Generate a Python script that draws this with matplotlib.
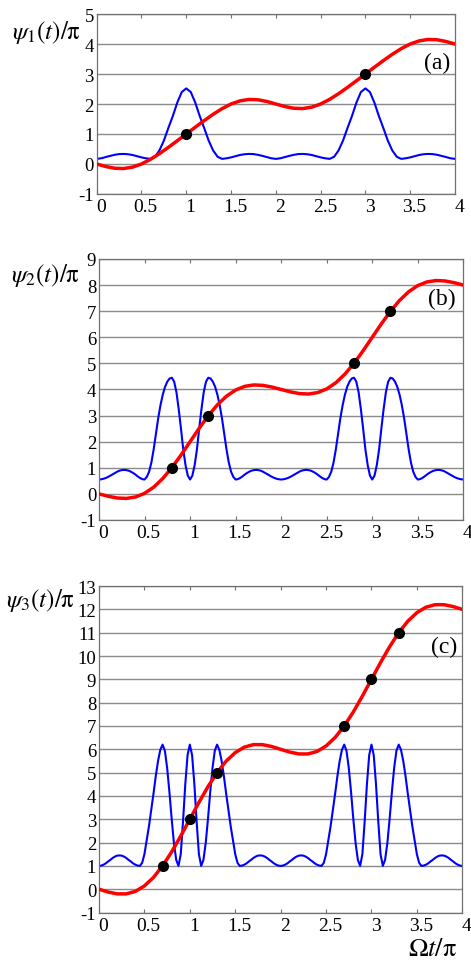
import matplotlib.pyplot as plt
import matplotlib.transforms as mtransforms
import numpy as np

plt.rcParams['font.family'] = 'Liberation Serif'
plt.rcParams['mathtext.fontset'] = 'stix'
plt.rcParams['axes.unicode_minus'] = False

# sample positions (Omega t / pi)
t_red = np.linspace(0, 4, 41)
t_blue_a = np.linspace(0, 4, 81)
t_blue_bc = np.linspace(0, 4, 161)

xtick_vals = [0, 0.5, 1, 1.5, 2, 2.5, 3, 3.5, 4]
xtick_labels = ['0', '0.5', '1', '1.5', '2', '2.5', '3', '3.5', '4']

# panel (a)
red_a = [0, -0.084, -0.142, -0.152, -0.105, 0.0, 0.154, 0.343, 0.554, 0.775,
         1.0, 1.225, 1.446, 1.657, 1.846, 2.0, 2.105, 2.152, 2.142, 2.084,
         2.0, 1.916, 1.858, 1.848, 1.895, 2.0, 2.154, 2.343, 2.554, 2.775,
         3.0, 3.225, 3.446, 3.657, 3.846, 4.0, 4.105, 4.152, 4.142, 4.084, 4.0]
blue_a = [0.17, 0.19, 0.23, 0.27, 0.305, 0.33, 0.335, 0.325, 0.30, 0.26, 0.22,
          0.19, 0.17, 0.24, 0.45, 0.78, 1.20, 1.60, 2.05, 2.40, 2.52,
          2.40, 2.05, 1.60, 1.20, 0.78, 0.45, 0.24, 0.17, 0.19, 0.22,
          0.26, 0.30, 0.325, 0.335, 0.33, 0.305, 0.27, 0.23, 0.19, 0.17,
          0.19, 0.23, 0.27, 0.305, 0.33, 0.335, 0.325, 0.30, 0.26, 0.22,
          0.19, 0.17, 0.24, 0.45, 0.78, 1.20, 1.60, 2.05, 2.40, 2.52,
          2.40, 2.05, 1.60, 1.20, 0.78, 0.45, 0.24, 0.17, 0.19, 0.22,
          0.26, 0.30, 0.325, 0.335, 0.33, 0.305, 0.27, 0.23, 0.19, 0.17]
dots_a_x = [1, 3]
dots_a_y = [1, 3]

# panel (b)
red_b = [0, -0.091, -0.157, -0.174, -0.120, 0.02, 0.256, 0.588, 1.005, 1.485,
         2.0, 2.515, 2.995, 3.412, 3.744, 3.98, 4.120, 4.174, 4.157, 4.091,
         4.0, 3.909, 3.843, 3.826, 3.880, 4.02, 4.256, 4.588, 5.005, 5.485,
         6.0, 6.515, 6.995, 7.412, 7.744, 7.98, 8.120, 8.174, 8.157, 8.091, 8.0]
blue_b = [0.55, 0.56, 0.58, 0.61, 0.65, 0.70, 0.75, 0.80, 0.85, 0.89,
          0.91, 0.92, 0.91, 0.89, 0.85, 0.80, 0.74, 0.67, 0.61, 0.565,
          0.55, 0.65, 0.85, 1.2, 1.7, 2.3, 2.9, 3.4, 3.8, 4.1,
          4.3, 4.42, 4.45, 4.3, 3.9, 3.25, 2.5, 1.7, 1.1, 0.7, 0.55,
          0.7, 1.1, 1.7, 2.5, 3.25, 3.9, 4.3, 4.45, 4.42, 4.3,
          4.1, 3.8, 3.4, 2.9, 2.3, 1.7, 1.2, 0.85, 0.65, 0.55,
          0.565, 0.61, 0.67, 0.74, 0.80, 0.85, 0.89, 0.91, 0.92, 0.91,
          0.89, 0.85, 0.80, 0.75, 0.70, 0.65, 0.61, 0.58, 0.56, 0.55,
          0.56, 0.58, 0.61, 0.65, 0.70, 0.75, 0.80, 0.85, 0.89, 0.91,
          0.92, 0.91, 0.89, 0.85, 0.80, 0.74, 0.67, 0.61, 0.565, 0.55,
          0.65, 0.85, 1.2, 1.7, 2.3, 2.9, 3.4, 3.8, 4.1, 4.3,
          4.42, 4.45, 4.3, 3.9, 3.25, 2.5, 1.7, 1.1, 0.7, 0.55,
          0.7, 1.1, 1.7, 2.5, 3.25, 3.9, 4.3, 4.45, 4.42, 4.3,
          4.1, 3.8, 3.4, 2.9, 2.3, 1.7, 1.2, 0.85, 0.65, 0.55,
          0.565, 0.61, 0.67, 0.74, 0.80, 0.85, 0.89, 0.91, 0.92, 0.91,
          0.89, 0.85, 0.80, 0.75, 0.70, 0.65, 0.61, 0.58, 0.56, 0.55]
dots_b_x = [0.8, 1.2, 2.8, 3.2]
dots_b_y = [1, 3, 5, 7]

# panel (c)
red_c = [0, -0.120, -0.199, -0.200, -0.093, 0.141, 0.507, 1.001, 1.601, 2.280,
         3.0, 3.720, 4.399, 4.999, 5.493, 5.859, 6.093, 6.200, 6.199, 6.120,
         6.0, 5.880, 5.801, 5.800, 5.907, 6.141, 6.507, 7.001, 7.601, 8.280,
         9.0, 9.720, 10.399, 10.999, 11.493, 11.859, 12.093, 12.200, 12.199, 12.120, 12.0]
blue_c = [1.0, 1.014, 1.053, 1.11, 1.19, 1.26, 1.34, 1.40, 1.44, 1.45,
          1.44, 1.40, 1.34, 1.26, 1.19, 1.11, 1.053, 1.014, 1.0, 1.13,
          1.50, 2.10, 2.70, 3.40, 4.10, 4.85, 5.50, 5.98, 6.2, 5.94,
          5.21, 4.18, 3.02, 1.98, 1.26, 1.0, 1.5, 2.9, 4.5, 5.75, 6.2,
          5.75, 4.5, 2.9, 1.5, 1.0, 1.26, 1.98, 3.02, 4.18, 5.21,
          5.94, 6.2, 5.98, 5.50, 4.85, 4.10, 3.40, 2.70, 2.10, 1.50,
          1.13, 1.0, 1.014, 1.053, 1.11, 1.19, 1.26, 1.34, 1.40, 1.44,
          1.45, 1.44, 1.40, 1.34, 1.26, 1.19, 1.11, 1.053, 1.014, 1.0,
          1.014, 1.053, 1.11, 1.19, 1.26, 1.34, 1.40, 1.44, 1.45, 1.44,
          1.40, 1.34, 1.26, 1.19, 1.11, 1.053, 1.014, 1.0, 1.13, 1.50,
          2.10, 2.70, 3.40, 4.10, 4.85, 5.50, 5.98, 6.2, 5.94, 5.21,
          4.18, 3.02, 1.98, 1.26, 1.0, 1.5, 2.9, 4.5, 5.75, 6.2,
          5.75, 4.5, 2.9, 1.5, 1.0, 1.26, 1.98, 3.02, 4.18, 5.21,
          5.94, 6.2, 5.98, 5.50, 4.85, 4.10, 3.40, 2.70, 2.10, 1.50,
          1.13, 1.0, 1.014, 1.053, 1.11, 1.19, 1.26, 1.34, 1.40, 1.44,
          1.45, 1.44, 1.40, 1.34, 1.26, 1.19, 1.11, 1.053, 1.014, 1.0]
dots_c_x = [0.7, 1.0, 1.3, 2.7, 3.0, 3.3]
dots_c_y = [1, 3, 5, 7, 9, 11]

panels = [
    dict(rect=[0.2053, 0.799, 0.7607, 0.1855], red=red_a, tb=t_blue_a, blue=blue_a,
         dx=dots_a_x, dy=dots_a_y, ylim=(-1, 5), ylabel=r'$\psi_1(t)/\mathrm{\pi}$',
         lpos=(0.098, 0.966), tag='(a)', tpos=(0.928, 0.935)),
    dict(rect=[0.2102, 0.4629, 0.7735, 0.2691], red=red_b, tb=t_blue_bc, blue=blue_b,
         dx=dots_b_x, dy=dots_b_y, ylim=(-1, 9), ylabel=r'$\psi_2(t)/\mathrm{\pi}$',
         lpos=(0.096, 0.7155), tag='(b)', tpos=(0.938, 0.691)),
    dict(rect=[0.2102, 0.0582, 0.7713, 0.3366], red=red_c, tb=t_blue_bc, blue=blue_c,
         dx=dots_c_x, dy=dots_c_y, ylim=(-1, 13), ylabel=r'$\psi_3(t)/\mathrm{\pi}$',
         lpos=(0.086, 0.381), tag='(c)', tpos=(0.943, 0.333)),
]

fig = plt.figure(figsize=(4.71, 9.70), dpi=100)
shift = mtransforms.ScaledTranslation(3 / 72, 0, fig.dpi_scale_trans)

for p in panels:
    ax = fig.add_axes(p['rect'])
    ax.plot(p['tb'], p['blue'], color='#0000ff', lw=1.5, zorder=2)
    ax.plot(t_red, p['red'], color='#ff0000', lw=2.5, zorder=3)
    ax.plot(p['dx'], p['dy'], 'o', color='black', ms=7, zorder=4)

    ax.set_xlim(0, 4)
    ax.set_ylim(*p['ylim'])
    ax.set_xticks(xtick_vals)
    ax.set_xticklabels(xtick_labels)
    ax.set_yticks(np.arange(p['ylim'][0], p['ylim'][1] + 1))
    ax.yaxis.grid(True, color='#8a8a8a', lw=1.0)
    ax.set_axisbelow(True)
    ax.tick_params(axis='x', direction='in', top=True, length=3, width=0.8,
                   color='#707070', labelsize=14, pad=3)
    ax.tick_params(axis='y', direction='in', length=0, labelsize=13.5, pad=2)
    for lab in ax.get_xticklabels():
        lab.set_transform(lab.get_transform() + shift)
    for s in ax.spines.values():
        s.set_color('#707070')
        s.set_linewidth(0.9)

    fig.text(p['lpos'][0], p['lpos'][1], p['ylabel'], fontsize=18,
             ha='center', va='center')
    fig.text(p['tpos'][0], p['tpos'][1], p['tag'], fontsize=17,
             ha='center', va='center')

fig.text(0.919, 0.0206, r'$\Omega t/\mathrm{\pi}$', fontsize=19, ha='center', va='center')

fig.savefig('out.png', dpi=100)
